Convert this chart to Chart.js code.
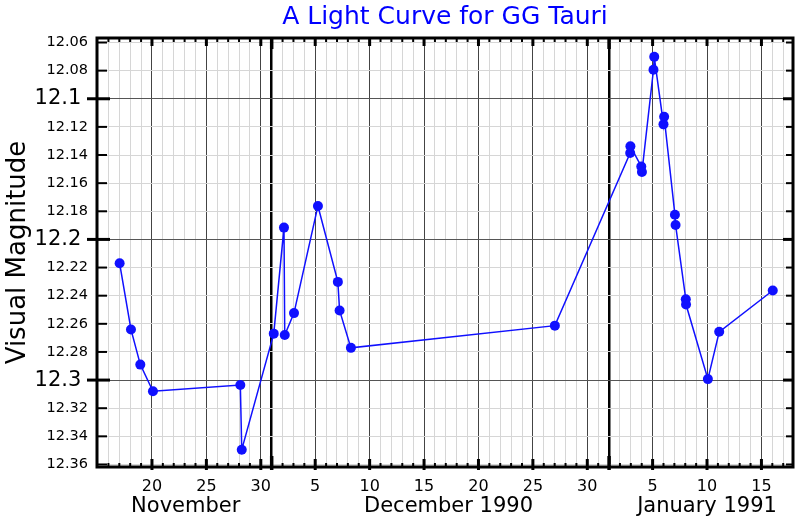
<!DOCTYPE html>
<html>
<head>
<meta charset="utf-8">
<script src="https://cdn.jsdelivr.net/npm/chart.js@4/dist/chart.umd.min.js"></script>
<style>
  html, body { margin: 0; padding: 0; background: #fff; }
  #wrap { width: 800px; height: 520px; }
</style>
</head>
<body>
<div id="wrap"><canvas id="chart" width="800" height="520"></canvas></div>
<script>
// days counted from 15 November 1990, 0h
const obsDay = [
  2.03, 3.07, 3.93, 5.09, 13.12, 13.25, 16.19, 17.13, 17.2, 18.05,
  20.25, 22.08, 22.24, 23.28, 42.02, 48.94, 48.96, 49.96, 50.02, 51.08,
  51.15, 52.0, 52.06, 53.05, 53.11, 54.05, 54.07, 56.08, 57.12, 62.04,
];
const magnitude = [
  12.217, 12.264, 12.289, 12.308, 12.3035, 12.3495, 12.267, 12.1916, 12.268, 12.2524,
  12.1762, 12.2302, 12.2505, 12.2771, 12.2613, 12.1386, 12.1337, 12.1481, 12.1521, 12.0794,
  12.0702, 12.1182, 12.1128, 12.1824, 12.1897, 12.2425, 12.2463, 12.2993, 12.2657, 12.2363,
];

const yTicks = [12.06, 12.08, 12.1, 12.12, 12.14, 12.16, 12.18, 12.2, 12.22, 12.24,
  12.26, 12.28, 12.3, 12.32, 12.34, 12.36];

const monthNames = ["November", "December 1990", "January 1991"];
const monthStart = [-14, 16, 47];        // day offset of the 1st of each month
const monthLabelDay = [8.1, 32.25, 56.0]; // where each month caption sits

const xMin = -0.05;
const xMax = 63.9;

function dayOfMonth(d) {
  let i = 0;
  while (i + 1 < monthStart.length && d >= monthStart[i + 1]) i++;
  return d - monthStart[i] + 1;
}

function isMajorMag(v) {
  return Math.round(v * 100) % 10 === 0;
}

const xTickDays = [];
for (let d = 0; d <= 63; d++) xTickDays.push(d);

const frameAndTicks = {
  id: "frameAndTicks",
  afterDraw(chart) {
    const { ctx, chartArea: a, scales } = chart;
    const x = scales.x;
    const y = scales.y;
    ctx.save();
    ctx.strokeStyle = "#000";
    ctx.lineCap = "butt";

    const seg = (x1, y1, x2, y2, w) => {
      ctx.lineWidth = w;
      ctx.beginPath();
      ctx.moveTo(x1, y1);
      ctx.lineTo(x2, y2);
      ctx.stroke();
    };

    // day ticks on top and bottom
    for (const d of xTickDays) {
      if (d === 0) continue;
      const px = x.getPixelForValue(d);
      const dom = dayOfMonth(d);
      let len = 4, out = 0, w = 2;
      if (dom === 1) { len = 11; out = 3; w = 3.5; }
      else if (dom % 5 === 0) { len = 8; out = 3; w = 3; }
      seg(px, a.bottom + out, px, a.bottom - len, w);
      seg(px, a.top, px, a.top + len, w);
    }

    // magnitude ticks on left and right
    for (const v of yTicks) {
      const py = y.getPixelForValue(v);
      if (isMajorMag(v)) {
        seg(a.left - 10, py, a.left + 13, py, 3);
        seg(a.right, py, a.right - 10, py, 3);
      } else {
        seg(a.left, py, a.left + 10, py, 2);
        seg(a.right, py, a.right - 7, py, 2);
      }
    }

    // frame
    ctx.lineWidth = 3;
    ctx.strokeRect(a.left, a.top, a.right - a.left, a.bottom - a.top);

    // month captions
    ctx.fillStyle = "#000";
    ctx.font = "21px 'DejaVu Sans'";
    ctx.textAlign = "center";
    ctx.textBaseline = "middle";
    monthNames.forEach((name, i) => {
      ctx.fillText(name, x.getPixelForValue(monthLabelDay[i]), 507);
    });
    ctx.restore();
  },
};

const points = obsDay.map((d, i) => ({ x: d, y: magnitude[i] }));

new Chart(document.getElementById("chart"), {
  type: "line",
  data: {
    datasets: [
      {
        label: "GG Tau",
        data: points,
        borderColor: "#1010ff",
        backgroundColor: "#1010ff",
        borderWidth: 1.5,
        pointRadius: 5,
        pointBorderWidth: 0,
        pointBackgroundColor: "#1010ff",
        tension: 0,
      },
    ],
  },
  options: {
    responsive: false,
    animation: false,
    layout: { padding: { left: 0, right: 7, top: 0, bottom: 0 } },
    plugins: {
      legend: { display: false },
      tooltip: { enabled: false },
      title: {
        display: true,
        fullSize: false,
        text: "A Light Curve for GG Tauri",
        color: "#0000ff",
        font: { family: "'DejaVu Sans'", size: 25, weight: "normal" },
        padding: { top: 2, bottom: 6 },
      },
    },
    scales: {
      x: {
        type: "linear",
        min: xMin,
        max: xMax,
        afterBuildTicks: (scale) => {
          scale.ticks = xTickDays.map((d) => ({ value: d }));
        },
        afterFit: (scale) => {
          scale.height = 53;
        },
        border: { display: false },
        grid: {
          drawTicks: false,
          color: (c) => {
            const dom = dayOfMonth(c.tick.value);
            if (dom === 1) return "#000";
            if (dom % 5 === 0) return "#444";
            return "#d6d6d6";
          },
          lineWidth: (c) => (dayOfMonth(c.tick.value) === 1 ? 2.5 : 1),
        },
        ticks: {
          autoSkip: false,
          maxRotation: 0,
          padding: 10,
          color: "#000",
          font: { family: "'DejaVu Sans'", size: 16 },
          callback: (v) => {
            if (v === 0) return "";
            const dom = dayOfMonth(v);
            return dom % 5 === 0 ? String(dom) : "";
          },
        },
      },
      y: {
        type: "linear",
        reverse: true,
        min: 12.0568,
        max: 12.3618,
        afterBuildTicks: (scale) => {
          scale.ticks = yTicks.map((v) => ({ value: v }));
        },
        afterFit: (scale) => {
          scale.width = 97;
        },
        border: { display: false },
        grid: {
          drawTicks: false,
          color: (c) => (isMajorMag(c.tick.value) ? "#555" : "#d6d6d6"),
          lineWidth: 1,
        },
        title: {
          display: true,
          text: "Visual Magnitude",
          color: "#000",
          font: { family: "'DejaVu Sans'", size: 26 },
          padding: { top: 3, bottom: 0 },
        },
        ticks: {
          autoSkip: false,
          padding: 9,
          color: "#000",
          font: (c) => ({
            family: "'DejaVu Sans'",
            size: c.tick && isMajorMag(c.tick.value) ? 21 : 14.5,
          }),
          callback: (v) => (isMajorMag(v) ? v.toFixed(1) + " " : v.toFixed(2)),
        },
      },
    },
  },
  plugins: [frameAndTicks],
});
</script>
</body>
</html>
